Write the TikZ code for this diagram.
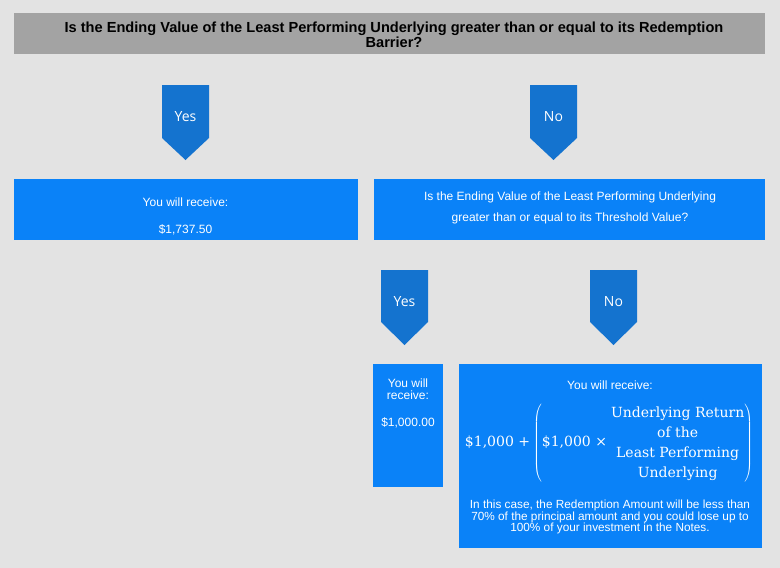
\documentclass[tikz,border=0pt]{standalone}
\usepackage{fontspec}
\setmainfont{Liberation Sans}
\newfontfamily\osans{Open Sans}
\newfontfamily\dserif{DejaVu Serif}
\definecolor{bgc}{HTML}{E3E3E3}
\definecolor{titlec}{HTML}{A3A3A3}
\definecolor{chevc}{HTML}{1473CF}
\definecolor{boxc}{HTML}{0A82F8}
\begin{document}
\begin{tikzpicture}[x=1pt,y=-1pt,
  boxst/.style={fill=boxc, inner sep=0pt, anchor=north west},
  chevst/.style={fill=chevc},
  chevtext/.style={text=white, font=\osans\fontsize{14}{16}\selectfont},
  btext/.style={text=white, font=\fontsize{12}{12}\selectfont, align=center, inner sep=0pt},
  titletext/.style={text=black, font=\bfseries\fontsize{14.6}{15}\selectfont, align=center, inner sep=0pt}]
\useasboundingbox[fill=bgc] (0,0) rectangle (780,568);

% title bar
\node[fill=titlec, inner sep=0pt, anchor=north west, minimum width=751pt, minimum height=41pt] (title) at (14,13) {};
\node[titletext] (titlet) at (394,34.5) {Is the Ending Value of the Least Performing Underlying greater than or equal to its Redemption\\Barrier?};

% chevrons
\fill[chevst] (162,85) -- (209,85) -- (209,138) -- (185.5,160) -- (162,138) -- cycle;
\node[chevtext] (yes1) at (185.5,117) {Yes};
\fill[chevst] (530,85) -- (577,85) -- (577,138) -- (553.5,160) -- (530,138) -- cycle;
\node[chevtext] (no1) at (553.5,117) {No};
\fill[chevst] (381,270) -- (428,270) -- (428,322) -- (404.5,345) -- (381,322) -- cycle;
\node[chevtext] (yes2) at (404.5,302) {Yes};
\fill[chevst] (590,270) -- (637,270) -- (637,322) -- (613.5,345) -- (590,322) -- cycle;
\node[chevtext] (no2) at (613.5,302) {No};

% boxes
\node[boxst, minimum width=344pt, minimum height=61pt] (b1) at (14,179) {};
\node[btext] (b1a) at (185.5,202) {You will receive:};
\node[btext] (b1b) at (185.5,230) {\$1,737.50};

\node[boxst, minimum width=391pt, minimum height=61pt] (b2) at (374,179) {};
\node[btext] (b2a) at (570,197) {Is the Ending Value of the Least Performing Underlying};
\node[btext] (b2b) at (570,218) {greater than or equal to its Threshold Value?};

\node[boxst, minimum width=70pt, minimum height=123pt] (b3) at (373,364) {};
\node[btext, anchor=north] (b3a) at (408,379) {You will\\receive:};
\node[btext] (b3b) at (408,423) {\$1,000.00};

\node[boxst, minimum width=303pt, minimum height=184pt] (b4) at (459,364) {};
\node[btext] (b4a) at (610,385) {You will receive:};
\node[text=white, inner sep=0pt, font=\dserif\fontsize{14}{20}\selectfont] (b4f) at (609,443)
  {\$1,000 +\hspace{3pt}$\left(\mbox{\$1,000 ×\hspace{4pt}}\begin{tabular}{@{}c@{}}Underlying Return\\of the\\Least Performing\\Underlying\end{tabular}\right)$};
\node[btext, font=\fontsize{11.8}{11.5}\selectfont] (b4c) at (610,517) {In this case, the Redemption Amount will be less than\\70\% of the principal amount and you could lose up to\\100\% of your investment in the Notes.};
\end{tikzpicture}
\end{document}
